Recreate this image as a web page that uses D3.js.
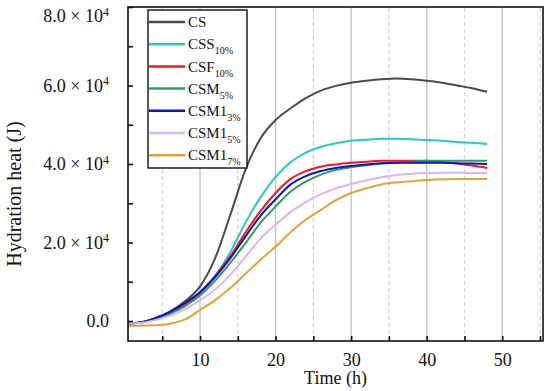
<!DOCTYPE html>
<html>
<head>
<meta charset="utf-8">
<script src="https://cdn.jsdelivr.net/npm/d3@7"></script>
<style>
  body { margin: 0; background: #fff; }
  svg { display: block; font-family: "Liberation Serif", "DejaVu Serif", serif; }
</style>
</head>
<body>
<svg id="chart" width="550" height="391"></svg>
<script>
// hours
const time = [0.5, 2, 4, 6, 8, 10, 12, 14, 16, 18, 20, 22, 24, 26, 28, 30, 32, 34, 36, 38, 40, 42, 44, 46, 48];

// hydration heat (J)
const cs      = [-600, -400, 600, 2400, 5000, 8800, 16000, 27000, 38500, 46500, 51200, 54200, 56800, 58700, 59900, 60700, 61200, 61600, 61800, 61600, 61200, 60700, 60000, 59300, 58400];
const css10   = [-600, -450, 500, 2000, 4200, 7000, 11500, 17500, 25000, 31500, 36700, 40500, 42900, 44400, 45300, 45900, 46200, 46400, 46400, 46300, 46100, 45900, 45600, 45400, 45100];
const csf10   = [-600, -450, 500, 2000, 4200, 7200, 11500, 16500, 22500, 28000, 32600, 36200, 38200, 39300, 39900, 40300, 40600, 40800, 40800, 40800, 40800, 40500, 40100, 39600, 39000];
const csm5    = [-600, -450, 400, 1800, 3800, 6500, 10300, 14800, 19800, 25000, 29200, 33000, 35500, 37300, 38500, 39200, 39700, 40100, 40400, 40600, 40800, 40800, 40800, 40800, 40800];
const csm1_3  = [-600, -400, 700, 2300, 4600, 7400, 11200, 16000, 21500, 26800, 31000, 34800, 36900, 38200, 39000, 39500, 39900, 40200, 40300, 40300, 40300, 40300, 40200, 40100, 40000];
const csm1_5  = [-600, -500, 200, 1300, 3000, 5300, 8000, 11800, 16300, 21000, 24500, 27800, 30300, 32300, 33800, 34900, 35800, 36600, 37200, 37500, 37700, 37800, 37800, 37700, 37700];
const csm1_7  = [-1200, -1200, -1100, -700, 400, 2800, 5300, 8400, 12000, 15600, 18900, 22700, 25800, 28300, 30800, 32600, 33800, 34800, 35300, 35600, 35900, 36100, 36200, 36200, 36200];

const seriesNames = [["CS", ""], ["CSS", "10%"], ["CSF", "10%"], ["CSM", "5%"], ["CSM1", "3%"], ["CSM1", "5%"], ["CSM1", "7%"]];
const seriesValues = [cs, css10, csf10, csm5, csm1_3, csm1_5, csm1_7];
const colors = ["#4a4a4a", "#22cdbd", "#ff1414", "#2e9e60", "#0a14c8", "#d9b4f0", "#dea535"];

const xMajor = [10, 20, 30, 40, 50];
const xMinor = [5, 15, 25, 35, 45, 55];
const yMajor = [0, 20000, 40000, 60000, 80000];
const yMinor = [10000, 30000, 50000, 70000];

var svg = d3.select("#chart"),
    margin = { top: 7, left: 128, bottom: 50, right: 7 },
    width = +svg.attr("width"),
    height = +svg.attr("height");

var x = d3.scaleLinear()
    .domain([0.46, 55.4])
    .range([margin.left, width - margin.right]);

var y = d3.scaleLinear()
    .domain([-5100, 80000])
    .range([height - margin.bottom, margin.top]);

// vertical grid
svg.append("g").selectAll("line")
    .data(xMajor)
    .enter().append("line")
    .attr("x1", d => x(d)).attr("x2", d => x(d))
    .attr("y1", y.range()[0]).attr("y2", y.range()[1])
    .attr("stroke", "#c6c6c6")
    .attr("stroke-width", 1.5);

svg.append("g").selectAll("line")
    .data(xMinor)
    .enter().append("line")
    .attr("x1", d => x(d)).attr("x2", d => x(d))
    .attr("y1", y.range()[0]).attr("y2", y.range()[1])
    .attr("stroke", "#d2d2d2")
    .attr("stroke-width", 1.2)
    .attr("stroke-dasharray", "4,3");

// curves
var line = d3.line()
    .x((d, i) => x(time[i]))
    .y(d => y(d))
    .curve(d3.curveMonotoneX);

svg.append("g").selectAll("path")
    .data(seriesValues)
    .enter().append("path")
    .attr("d", d => line(d))
    .attr("fill", "none")
    .attr("stroke", (d, i) => colors[i])
    .attr("stroke-width", 2);

// frame
svg.append("rect")
    .attr("x", x.range()[0]).attr("y", y.range()[1])
    .attr("width", x.range()[1] - x.range()[0])
    .attr("height", y.range()[0] - y.range()[1])
    .attr("fill", "none")
    .attr("stroke", "#111")
    .attr("stroke-width", 1.6);

// x axis (ticks pointing inward)
var xAxis = svg.append("g")
    .attr("transform", `translate(0,${y.range()[0]})`)
    .call(d3.axisBottom(x).tickValues(xMajor.concat(xMinor)).tickSizeInner(-5).tickSizeOuter(0).tickFormat(d => xMajor.includes(d) ? d : ""));
xAxis.select(".domain").remove();
xAxis.selectAll(".tick line").attr("stroke", "#111").attr("stroke-width", 1.6);
xAxis.selectAll(".tick text")
    .attr("y", 12)
    .attr("font-size", "18px")
    .attr("font-family", "Liberation Serif, serif")
    .attr("fill", "#111");

// y axis (ticks pointing inward)
var yAxis = svg.append("g")
    .attr("transform", `translate(${x.range()[0]},0)`)
    .call(d3.axisLeft(y).tickValues(yMajor.concat(yMinor)).tickSizeInner(-5).tickSizeOuter(0).tickFormat(""));
yAxis.select(".domain").remove();
yAxis.selectAll(".tick line").attr("stroke", "#111").attr("stroke-width", 1.6);

var yLabels = svg.append("g")
    .attr("font-size", "18px")
    .attr("fill", "#111")
    .attr("text-anchor", "end")
    .selectAll("text")
    .data(yMajor)
    .enter().append("text")
    .attr("x", x.range()[0] - 19)
    .attr("y", d => y(d))
    .attr("dy", d => d === 80000 ? "0.85em" : "0.35em");

yLabels.filter(d => d === 0).text("0.0");
yLabels.filter(d => d !== 0).each(function (d) {
    var t = d3.select(this);
    t.append("tspan").text((d / 10000).toFixed(1) + " × 10");
    t.append("tspan").attr("font-size", "12px").attr("dy", "-0.55em").text("4");
});

// axis titles
svg.append("text")
    .attr("x", (x.range()[0] + x.range()[1]) / 2)
    .attr("y", 384)
    .attr("text-anchor", "middle")
    .attr("font-size", "18px")
    .attr("fill", "#111")
    .text("Time (h)");

svg.append("text")
    .attr("transform", "translate(21,194) rotate(-90)")
    .attr("text-anchor", "middle")
    .attr("font-size", "20px")
    .attr("fill", "#111")
    .text("Hydration heat (J)");

// legend
var legend = svg.append("g").attr("transform", "translate(148,10)");
legend.append("rect")
    .attr("width", 99).attr("height", 158)
    .attr("fill", "#fff")
    .attr("stroke", "#111")
    .attr("stroke-width", 1.4);

var item = legend.selectAll(".item")
    .data(seriesNames)
    .enter().append("g")
    .attr("class", "item")
    .attr("transform", (d, i) => `translate(0,${12 + i * 22.2})`);

item.append("line")
    .attr("x1", 1).attr("x2", 37)
    .attr("stroke", (d, i) => colors[i])
    .attr("stroke-width", 2.5);

var label = item.append("text")
    .attr("x", 40)
    .attr("dy", "0.35em")
    .attr("font-size", "15px")
    .attr("fill", "#111");
label.append("tspan").text(d => d[0]);
label.append("tspan")
    .attr("font-size", "10px")
    .attr("dy", "0.5em")
    .text(d => d[1]);
</script>
</body>
</html>
